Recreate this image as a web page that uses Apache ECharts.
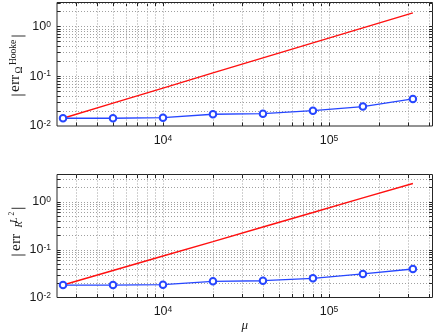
<!DOCTYPE html>
<html>
<head>
<meta charset="utf-8">
<script src="https://cdn.jsdelivr.net/npm/echarts@6/dist/echarts.min.js"></script>
<style>html,body{margin:0;padding:0;background:#fff}#c{width:436px;height:333px}</style>
</head>
<body>
<div id="c"></div>
<script>
// ---- data ----
const mu = [2500, 5000, 10000, 20000, 40000, 80000, 160000, 320000];
const hookeErr = [0.0143, 0.0143, 0.0147, 0.0172, 0.0177, 0.0203, 0.0245, 0.0349];
const hookeRef = [0.0143, 0.0287, 0.0576, 0.116, 0.232, 0.465, 0.93, 1.86];
const l2Err = [0.0182, 0.0182, 0.0185, 0.0218, 0.0224, 0.0252, 0.0310, 0.0394];
const l2Ref = [0.0182, 0.0366, 0.0734, 0.147, 0.297, 0.596, 1.20, 2.40];

// grid / tick positions (log axes)
const xMajorTicks = [10000, 100000];
const xMinorTicks = [3000, 4000, 5000, 6000, 7000, 8000, 9000,
  20000, 30000, 40000, 50000, 60000, 70000, 80000, 90000,
  200000, 300000, 400000];
const yMajorTicks = [0.1, 1];
const yMinorTicks = [0.02, 0.03, 0.04, 0.05, 0.06, 0.07, 0.08, 0.09,
  0.2, 0.3, 0.4, 0.5, 0.6, 0.7, 0.8, 0.9, 2, 3];

const chart = echarts.init(document.getElementById('c'), null, {renderer: 'canvas'});

const labelFont = 'Liberation Sans';
function powLabel(v) {
  const l = Math.log10(v);
  const e = Math.round(l);
  if (Math.abs(l - e) > 1e-6) return '';
  return '{b|10}{s|' + e + '}';
}
const richLab = {
  b: {fontSize: 12.5, fontFamily: labelFont, lineHeight: 13, color: '#1a1a1a'},
  s: {fontSize: 8.5, fontFamily: labelFont, lineHeight: 8, verticalAlign: 'top', color: '#1a1a1a'}
};

function xAxisDef(gi, withName) {
  const a = {
    type: 'log', logBase: 10, gridIndex: gi, min: 2300, max: 420000,
    axisLine: {show: false}, axisTick: {show: false}, splitLine: {show: false},
    axisLabel: {formatter: powLabel, rich: richLab, margin: 8, showMinLabel: true, showMaxLabel: true, hideOverlap: false}
  };
  if (withName) {
    a.name = 'μ';
    a.nameLocation = 'middle';
    a.nameGap = 22;
    a.nameTextStyle = {fontFamily: 'Liberation Serif', fontStyle: 'italic', fontSize: 13, color: '#1a1a1a'};
  }
  return a;
}
function yAxisDef(gi, max) {
  return {
    type: 'log', logBase: 10, gridIndex: gi, min: 0.01, max: max,
    axisLine: {show: false}, axisTick: {show: false}, splitLine: {show: false},
    axisLabel: {formatter: powLabel, rich: richLab, margin: 6, hideOverlap: false}
  };
}

function xGridSeries(gi, vals) {
  return {
    type: 'custom', xAxisIndex: gi, yAxisIndex: gi, z: 1, silent: true, clip: false,
    data: vals.map(v => [v, 0.1]),
    encode: {x: 0, y: 1},
    renderItem: function (params, api) {
      const cs = params.coordSys;
      const px = Math.round(api.coord([api.value(0), 0.1])[0]) + 0.5;
      return {type: 'group', children: [
        {type: 'line', shape: {x1: px, y1: cs.y, x2: px, y2: cs.y + cs.height},
          style: {stroke: '#a0a0a0', lineWidth: 1, lineDash: [1, 2]}},
        {type: 'line', shape: {x1: px, y1: cs.y + cs.height, x2: px, y2: cs.y + cs.height - 3.5},
          style: {stroke: '#262626', lineWidth: 1}},
        {type: 'line', shape: {x1: px, y1: cs.y, x2: px, y2: cs.y + 3.5},
          style: {stroke: '#262626', lineWidth: 1}}
      ]};
    }
  };
}
function yGridSeries(gi, vals) {
  return {
    type: 'custom', xAxisIndex: gi, yAxisIndex: gi, z: 1, silent: true, clip: false,
    data: vals.map(v => [10000, v]),
    encode: {x: 0, y: 1},
    renderItem: function (params, api) {
      const cs = params.coordSys;
      const py = Math.round(api.coord([10000, api.value(1)])[1]) + 0.5;
      return {type: 'group', children: [
        {type: 'line', shape: {x1: cs.x, y1: py, x2: cs.x + cs.width, y2: py},
          style: {stroke: '#a0a0a0', lineWidth: 1, lineDash: [1, 2]}},
        {type: 'line', shape: {x1: cs.x, y1: py, x2: cs.x + 3.5, y2: py},
          style: {stroke: '#262626', lineWidth: 1}},
        {type: 'line', shape: {x1: cs.x + cs.width, y1: py, x2: cs.x + cs.width - 3.5, y2: py},
          style: {stroke: '#262626', lineWidth: 1}}
      ]};
    }
  };
}

const blue = '#2646ff';
const red = '#ff1010';
function dataSeries(gi, ref, err) {
  return [
    {type: 'line', xAxisIndex: gi, yAxisIndex: gi, z: 3, data: mu.map((m, i) => [m, ref[i]]),
      showSymbol: false, symbol: 'none', lineStyle: {color: red, width: 1.4}, itemStyle: {color: red}},
    {type: 'line', xAxisIndex: gi, yAxisIndex: gi, z: 4, data: mu.map((m, i) => [m, err[i]]),
      symbol: 'emptyCircle', symbolSize: 6.5, lineStyle: {color: blue, width: 1.3},
      itemStyle: {color: blue, borderColor: blue, borderWidth: 1.2}}
  ];
}

const serif = 'Liberation Serif';
const txtCol = '#1a1a1a';
// text placed with its vertical middle at local y
function t(text, x, y, size, italic) {
  return {type: 'text', x: x, y: y, style: {text: text, fontFamily: serif, fontSize: size,
    fontStyle: italic ? 'italic' : 'normal', fill: txtCol, align: 'left', verticalAlign: 'middle'}};
}
function bar(x) {
  return {type: 'line', shape: {x1: x, y1: -6.5, x2: x, y2: 7.5}, style: {stroke: txtCol, lineWidth: 0.9}};
}

const option = {
  animation: false,
  backgroundColor: '#fff',
  grid: [
    {left: 57, right: 3.5, top: 2.5, bottom: 207, show: true, borderColor: '#262626', borderWidth: 1, backgroundColor: '#fff', outerBoundsMode: 'none'},
    {left: 57, right: 3.5, top: 174.5, bottom: 35.5, show: true, borderColor: '#262626', borderWidth: 1, backgroundColor: '#fff', outerBoundsMode: 'none'}
  ],
  xAxis: [xAxisDef(0, false), xAxisDef(1, true)],
  yAxis: [yAxisDef(0, 3), yAxisDef(1, 3.7)],
  series: [
    xGridSeries(0, xMajorTicks.concat(xMinorTicks)),
    yGridSeries(0, yMajorTicks.concat(yMinorTicks)),
    xGridSeries(1, xMajorTicks.concat(xMinorTicks)),
    yGridSeries(1, yMajorTicks.concat(yMinorTicks))
  ].concat(dataSeries(0, hookeRef, hookeErr)).concat(dataSeries(1, l2Ref, l2Err)),
  graphic: [
    {type: 'group', x: 18, y: 66, rotation: Math.PI / 2, children: [
      bar(-29),
      t('err', -26, -2.6, 15.5, false),
      t('Ω', -7.5, 1.5, 9.5, false),
      t('Hooke', 1, -4.5, 9.5, false),
      bar(30)
    ]},
    {type: 'group', x: 18, y: 231.5, rotation: Math.PI / 2, children: [
      bar(-23.5),
      t('err', -19.5, -1.6, 15.5, false),
      t('R', 4, 1.6, 10, true),
      t('L', 8.5, -3.4, 10, true),
      t('2', 16, -5.5, 7.5, false),
      bar(23.2)
    ]}
  ]
};
chart.setOption(option);
</script>
</body>
</html>
